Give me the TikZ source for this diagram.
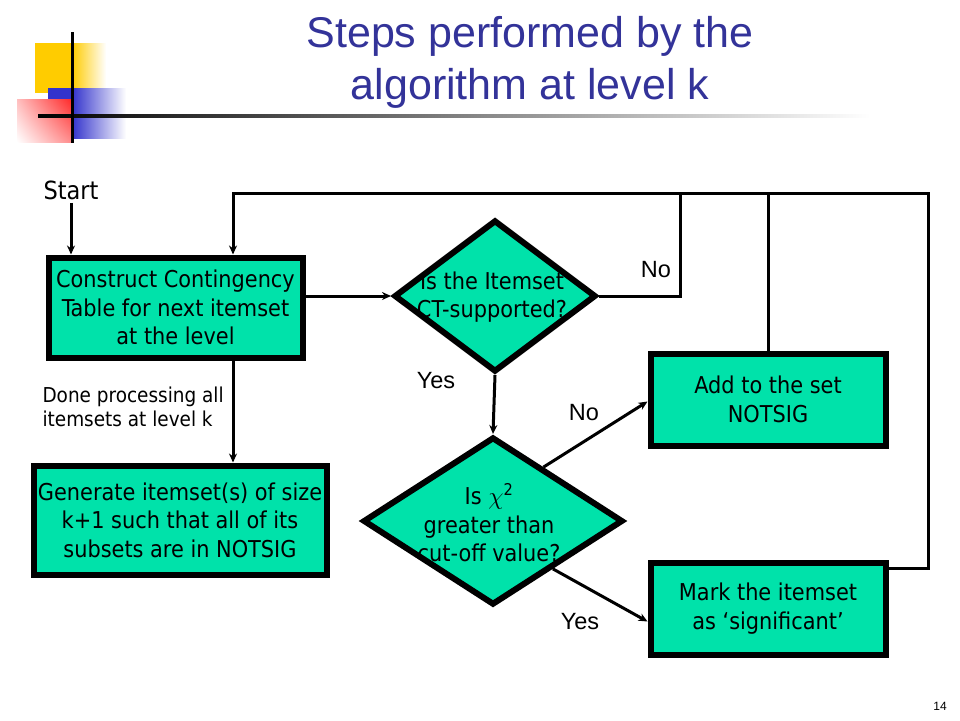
\documentclass[tikz,border=0pt]{standalone}
\usepackage{fontspec}
\setmainfont{Liberation Sans}
\newfontfamily\boxfont{DejaVu Sans Condensed}
\usetikzlibrary{shapes.geometric,arrows.meta,calc,shadings}
\definecolor{boxfill}{RGB}{0,226,170}
\definecolor{titleblue}{RGB}{51,51,153}
\definecolor{decoyellow}{RGB}{255,204,0}
\definecolor{decoblue}{RGB}{51,51,204}
\definecolor{decored}{RGB}{255,40,40}
\definecolor{decopink}{RGB}{255,190,190}
\definecolor{decopinkb}{RGB}{255,140,140}
\tikzset{
  stepbox/.style={draw=black, line width=6pt, fill=boxfill, inner sep=0pt,
    align=center, font=\boxfont\fontsize{23.2}{28.5}\selectfont},
  decision/.style={diamond, draw=black, line width=6pt, fill=boxfill, inner sep=0pt},
  dtext/.style={align=center, font=\boxfont\fontsize{23.2}{28.5}\selectfont},
  arr/.style={line width=3pt, -{Stealth[length=9pt,width=8pt]}},
  conn/.style={line width=3pt},
  lbl/.style={font=\fontsize{23.5}{26}\selectfont},
}
\begin{document}
\begin{tikzpicture}[x=1pt,y=-1pt]
\useasboundingbox (0,0) rectangle (960,720);
% decoration
\fill[decoyellow] (35,43) rectangle (72,93);
\shade[left color=decoyellow, right color=white] (72,43) rectangle (106,93);
\fill[decoblue] (48,88) rectangle (72,138);
\shade[left color=decoblue, right color=white] (72,88) rectangle (126,138);
\shade[upper right=decored, upper left=decopink, lower right=decopinkb, lower left=white] (17,99) rectangle (72,142);
\shade[left color=black, middle color=black!55, right color=white] (38,114.6) rectangle (870,117.4);
\fill[black] (70.5,32) rectangle (73.5,143);
% title
\node[font=\fontsize{43}{52}\selectfont, text=titleblue, align=center] (title) at (530,62) {Steps performed by the\\algorithm at level k};
% nodes
\node[stepbox, minimum width=254pt, minimum height=100pt] (b1) at (175.5,307.5) {Construct Contingency\\Table for next itemset\\at the level};
\node[stepbox, minimum width=293pt, minimum height=109pt] (b2) at (180,520) {Generate itemset(s) of size\\k+1 such that all of its\\subsets are in NOTSIG};
\node[stepbox, minimum width=235pt, minimum height=92pt] (b3) at (768,399.5) {Add to the set\\NOTSIG};
\node[stepbox, minimum width=235pt, minimum height=92pt] (b4) at (768,608.5) {Mark the itemset\\as ‘significant’};
\node[decision, minimum width=202pt, minimum height=152pt] (d1) at (495,296) {};
\node[dtext] (d1t) at (492,297) {Is the Itemset\\CT-supported?};
\node[decision, minimum width=260pt, minimum height=168pt] (d2) at (493,521) {};
\node[dtext] (d2t) at (489,523) {Is {\fontsize{27}{28}\selectfont$\chi$}\textsuperscript{2}\\greater than\\cut-off value?};
% labels
\node[font=\boxfont\fontsize{25}{28}\selectfont] (start) at (71,190) {Start};
\node[lbl] (no1) at (656,270) {No};
\node[lbl] (yes1) at (436,381) {Yes};
\node[lbl] (no2) at (584,413) {No};
\node[lbl] (yes2) at (580,622) {Yes};
\node[font=\boxfont\fontsize{20.5}{24}\selectfont, align=left, anchor=north west] (done) at (39,383) {Done processing all\\itemsets at level k};
\node[font=\fontsize{12}{14}\selectfont] (pg) at (940,706) {14};
% coordinates
\coordinate (col) at (233,0);
\coordinate (topA) at (680,193);
\coordinate (topR) at (928,193);
% connectors
\draw[arr] (start.south) -- (start.south |- b1.north);
\draw[arr] (d1.west -| b1.east) -- (d1.west);
\draw[arr] (col |- b1.south) -- (col |- b2.north);
\draw[arr] (d1.south) -- (d2.north);
\draw[conn] (d1.east) -| (topA);
\draw[conn] (b3.north) -- (b3.north |- topR);
\draw[arr] ([yshift=40pt]b4.east) -| (topR) -| (col |- b1.north);
\draw[arr] ($(d2.north)!0.38!(d2.east)$) -- ([yshift=-2pt]b3.west);
\draw[arr] ($(d2.east)!0.55!(d2.south)$) -- ([yshift=-13pt]b4.west);
\end{tikzpicture}
\end{document}
